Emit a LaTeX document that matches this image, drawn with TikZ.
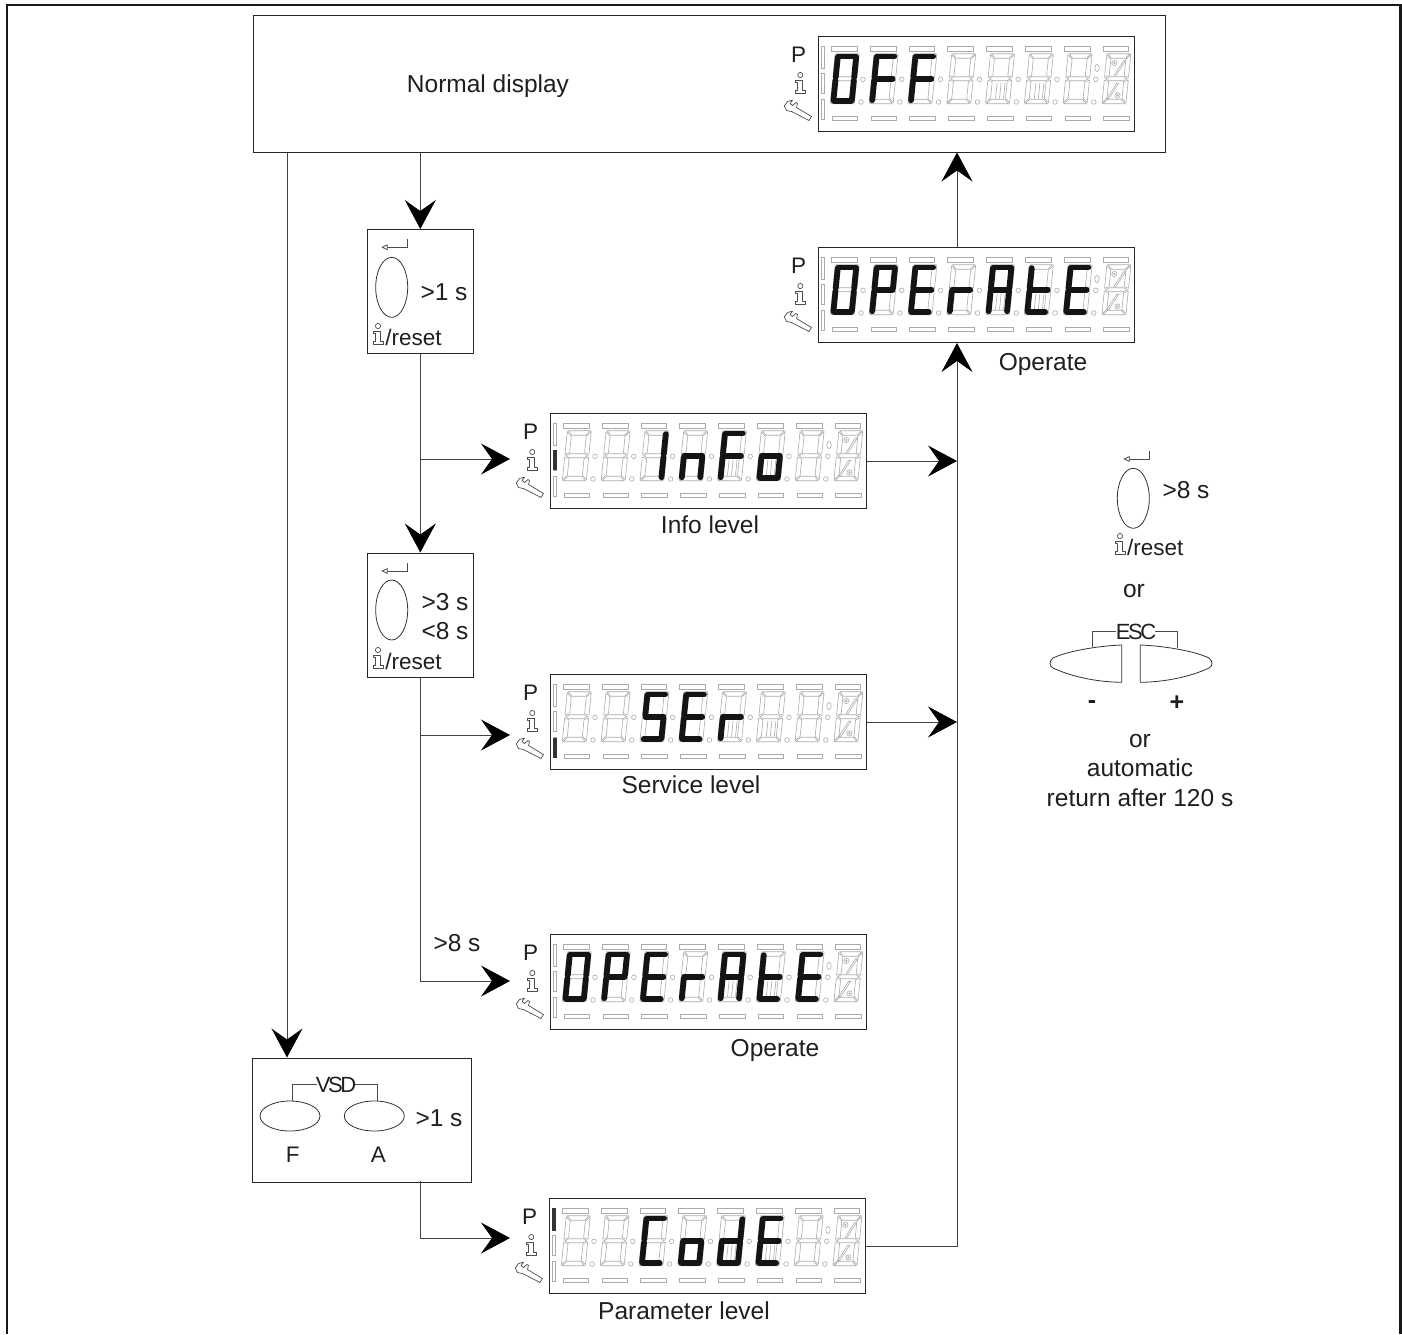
\documentclass[tikz,border=0pt]{standalone}
\usepackage{fontspec}
\setmainfont{Liberation Sans}
\usetikzlibrary{arrows.meta,calc}
\definecolor{conn}{HTML}{444444}
\definecolor{seggray}{HTML}{ABABAB}
\tikzset{
  conline/.style={draw=conn,line width=1pt},
  conarrow/.style={conline,-{Stealth[length=29pt,width=31pt,inset=11pt,fill=black,color=black]}},
  dispframe/.style={draw=black!85,line width=1pt,inner sep=0pt,minimum width=316pt,minimum height=95pt,anchor=north west},
  lab/.style={inner sep=0pt,font=\fontsize{24.5}{26}\selectfont,text=black!88},
  smalllab/.style={inner sep=0pt,font=\fontsize{22.5}{24}\selectfont,text=black!88},
  tightlab/.style={inner sep=0pt,font=\fontsize{22}{24}\selectfont\addfontfeature{LetterSpace=-11},text=black!88},
  boldlab/.style={inner sep=0pt,font=\fontsize{25}{26}\selectfont\bfseries,text=black!88},
  seg/.style={draw=seggray,line width=.6pt},
  act/.style={draw=black!92,line width=5.8pt,line cap=round},
  icon/.style={draw=black!70,line width=.7pt,line join=round},
  pushbtn/.style={draw=black!80,line width=.8pt},
  thinln/.style={draw=black!70,line width=.8pt}
}
% active segments
\newcommand\sega{\draw[act] (3.5,2.8)--(20.5,2.8);}
\newcommand\segb{\draw[act] (21.2,3.5)--(21.2,23.5);}
\newcommand\segc{\draw[act] (21.2,26.5)--(21.2,46.5);}
\newcommand\segd{\draw[act] (3.5,47.2)--(20.5,47.2);}
\newcommand\sege{\draw[act] (2.8,26.5)--(2.8,46.5);}
\newcommand\segf{\draw[act] (2.8,3.5)--(2.8,23.5);}
\newcommand\segg{\draw[act] (3,25)--(21,25);}
% passive digit outline
\newcommand\passivedigit{%
  \draw[seg] (1,0)--(23,0)--(19,4.5)--(5,4.5)--cycle;
  \draw[seg] (24,1)--(24,23.5)--(19.5,22)--(19.5,5.5)--cycle;
  \draw[seg] (24,26.5)--(24,49)--(19.5,44.5)--(19.5,28)--cycle;
  \draw[seg] (1,50)--(23,50)--(19,45.5)--(5,45.5)--cycle;
  \draw[seg] (0,26.5)--(0,49)--(4.5,44.5)--(4.5,28)--cycle;
  \draw[seg] (0,1)--(0,23.5)--(4.5,22)--(4.5,5.5)--cycle;
  \draw[seg] (1,25)--(5,23)--(19,23)--(23,25)--(19,27)--(5,27)--cycle;
}
\newcommand\iconi[2]{%
  \begin{scope}[shift={(#1,#2)}]
    \draw[icon] (0,-5) circle (2.6);
    \draw[icon] (-5,0)--(2.5,0)--(2.5,10.5)--(5,10.5)--(5,13.3)--(-5,13.3)--(-5,10.5)--(-2.5,10.5)--(-2.5,2.8)--(-5,2.8)--cycle;
  \end{scope}}
\newcommand\retsym[2]{%
  \begin{scope}[shift={(#1,#2)}]
    \draw[thinln] (25,-8)--(25,0)--(4,0);
    \draw[thinln,fill=white] (0,0)--(5,-2.4)--(5,2.4)--cycle;
  \end{scope}}
% display: name, x, y, active list, indicator row (0 none,1,2,3)
\newcommand\display[5]{%
\begin{scope}[shift={(#2,#3)}]
  \node[dispframe] (#1) at (0,0) {};
  % side icons
  \node[smalllab] (#1P) at (-19.3,18.7) {P};
  \iconi{-17.7}{44}
  \draw[icon] (-25.5,64.2)--(-30.5,65.5)--(-33.7,70)--(-31.5,74.5)--(-26.5,75.5)--(-9,84.5)--(-6.5,80.5)--(-21.5,71.5)--(-20.5,67.5)--(-22,66.5)--(-25.5,69.5)--(-28,67.5)--cycle;
  % side bars
  \draw[seg] (3,10.3) rectangle (6.7,32.7);
  \draw[seg] (3,37) rectangle (6.7,57);
  \draw[seg] (3,63.7) rectangle (6.7,83.7);
  \ifcase#5\or
    \fill[black!80] (3,10.3) rectangle (7,32.7);\or
    \fill[black!80] (3,37) rectangle (7,57);\or
    \fill[black!80] (3,63.7) rectangle (7,83.7);\fi
  \foreach \i in {0,...,7} {
    \draw[seg] ({13.3+\i*38.8},10.7) rectangle ++(25.7,4.3);
    \draw[seg] ({14+\i*38.8},80) rectangle ++(25.7,4);
    \begin{scope}[shift={({17.3+\i*38.8},17.7)},xslant=0.1]
      \passivedigit
    \end{scope}
  }
  \foreach \i in {0,...,6} {
    \draw[seg] ({45+\i*38.8},43.3) circle (2.3);
    \draw[seg] ({43+\i*38.8},66) circle (2.3);
  }
  \draw[seg] (279,32) ellipse (2.2 and 3.6);
  \foreach \i in {4,5} {
    \begin{scope}[shift={({17.3+\i*38.8},17.7)},xslant=0.1]
      \foreach \q in {9.5,13.5,17.5} \draw[seg] (\q,29)--(\q,45);
    \end{scope}
  }
  \begin{scope}[shift={(288.9,17.7)},xslant=0.1]
    \draw[seg] (8.4,9.3) circle (2.6);
    \fill[seggray] (8.4,9.3) circle (1.2);
    \draw[seg] (17.3,7)--(19.3,7)--(11.4,21.7)--(9.4,21.7)--cycle;
    \draw[seg] (12.8,29.5)--(14.8,29.5)--(6.3,45)--(4.3,45)--cycle;
    \draw[seg] (14.7,41.7) circle (2.6);
    \fill[seggray] (14.7,41.7) circle (1.2);
  \end{scope}
  \foreach \d/\s in {#4} {
    \begin{scope}[shift={({17.3+\d*38.8},17.7)},xslant=0.1]
      \foreach \t in \s {\csname seg\t\endcsname}
    \end{scope}
  }
\end{scope}}
\begin{document}
\begin{tikzpicture}[x=1pt,y=-1pt]
\useasboundingbox (0,0) rectangle (1402,1334);
\fill[white] (0,0) rectangle (1402,1334);
% outer frame (open at the bottom)
\draw[black!90,line width=2.3pt] (7,1334)--(7,5)--(1400.5,5)--(1400.5,1334);

% main box
\node[draw=black!85,line width=1pt,inner sep=0pt,minimum width=912pt,minimum height=137pt] (main) at (709,83.5) {};
\node[lab] (normal) at (488,86) {Normal display};

% displays
\display{off}{818}{36}{0/{a,b,c,d,e,f},1/{a,e,f,g},2/{a,e,f,g}}{0}
\display{opone}{818}{247}{0/{a,b,c,d,e,f},1/{a,b,e,f,g},2/{a,d,e,f,g},3/{e,g},4/{a,b,c,e,f,g},5/{d,e,f,g},6/{a,d,e,f,g}}{0}
\display{info}{550}{413}{2/{b,c},3/{c,e,g},4/{a,e,f,g},5/{c,d,e,g}}{2}
\display{serv}{550}{674}{2/{a,c,d,f,g},3/{a,d,e,f,g},4/{e,g}}{3}
\display{optwo}{550}{934}{0/{a,b,c,d,e,f},1/{a,b,e,f,g},2/{a,d,e,f,g},3/{e,g},4/{a,b,c,e,f,g},5/{d,e,f,g},6/{a,d,e,f,g}}{0}
\display{code}{549}{1198}{2/{a,d,e,f},3/{c,d,e,g},4/{b,c,d,e,g},5/{a,d,e,f,g}}{1}

% button boxes
\node[draw=black!85,line width=1pt,inner sep=0pt,minimum width=105.5pt,minimum height=124pt] (btnone) at (420.3,291.5) {};
\node[draw=black!85,line width=1pt,inner sep=0pt,minimum width=105.5pt,minimum height=124pt] (btntwo) at (420.3,615) {};
\node[draw=black!85,line width=1pt,inner sep=0pt,minimum width=219pt,minimum height=124pt] (vsd) at (362.2,1120) {};

% button 1 content
\retsym{382.3}{247.3}
\draw[pushbtn] (391.7,287.3) ellipse (16 and 30);
\node[lab] (t1s) at (444,292) {>1 s};
\iconi{378}{331}
\node[smalllab,anchor=west] (r1) at (385.2,337) {/reset};

% button 2 content
\retsym{382.3}{571}
\draw[pushbtn] (391.7,610) ellipse (16 and 30);
\node[lab] (t3s) at (445,602) {>3 s};
\node[lab] (t8s) at (445,631) {<8 s};
\iconi{378}{655}
\node[smalllab,anchor=west] (r2) at (385.2,661) {/reset};

% vsd content
\draw[pushbtn] (290,1116) ellipse (30 and 15);
\draw[pushbtn] (374.3,1116) ellipse (30 and 15);
\draw[thinln] (292.7,1101)--(292.7,1084.3)--(317,1084.3);
\draw[thinln] (355,1084.3)--(377.7,1084.3)--(377.7,1101);
\node[tightlab] (vsdt) at (336,1085) {VSD};
\node[lab] (t1b) at (439,1118) {>1 s};
\node[smalllab] (tf) at (292.7,1155) {F};
\node[smalllab] (ta) at (378.3,1155) {A};

% connector helpers
\coordinate (jx) at (957,300);
\coordinate (vx) at (287,152);
\coordinate (infoin) at (510,459);
\coordinate (servin) at (510,735);
\coordinate (optwoin) at (510,981);
\coordinate (codein) at (510,1238);
\coordinate (vsdout) at (420,1181);

% connectors
\draw[conarrow] (main.south -| vx) -- (vsd.north -| vx);
\draw[conarrow] (main.south -| btnone) -- (btnone.north);
\draw[conarrow] (btnone.south) -- (btntwo.north);
\draw[conarrow] (btnone.south |- infoin) -- (infoin);
\draw[conline] (btntwo.south) -- (btntwo.south |- optwoin);
\draw[conarrow] (btntwo.south |- servin) -- (servin);
\draw[conarrow] (btntwo.south |- optwoin) -- (optwoin);
\draw[conarrow] (vsdout) -- (vsdout |- codein) -- (codein);
\draw[conarrow] (info.east) -- (info.east -| jx);
\draw[conarrow] (serv.east) -- (serv.east -| jx);
\draw[conarrow] (code.east) -- (code.east -| jx) -- (opone.south -| jx);
\draw[conarrow] (opone.north -| jx) -- (main.south -| jx);

% labels
\node[lab] (lop1) at (1043,364) {Operate};
\node[lab] (linfo) at (710,525) {Info level};
\node[lab] (lserv) at (691,785) {Service level};
\node[lab] (l8) at (457,943) {>8 s};
\node[lab] (lop2) at (775,1050) {Operate};
\node[lab] (lpar) at (684,1311) {Parameter level};

% right legend
\retsym{1124.3}{459}
\draw[pushbtn] (1133.3,498.3) ellipse (16 and 30);
\node[lab] (t8r) at (1186,490) {>8 s};
\iconi{1120}{541}
\node[smalllab,anchor=west] (r3) at (1127,547) {/reset};
\node[lab] (or1) at (1134,591) {or};
\draw[pushbtn] (1121.7,645) .. controls (1095,646) and (1065,652) .. (1053,658) .. controls (1049,661) and (1049,666) .. (1053,668) .. controls (1070,676) and (1095,682) .. (1121.7,682.3) -- cycle;
\draw[pushbtn] (1140.3,645) .. controls (1167,646) and (1197,652) .. (1209,658) .. controls (1213,661) and (1213,666) .. (1209,668) .. controls (1192,676) and (1167,682) .. (1140.3,682.3) -- cycle;
\draw[thinln] (1092.3,647)--(1092.3,631.7)--(1116,631.7);
\draw[thinln] (1155,631.7)--(1177.7,631.7)--(1177.7,648);
\node[tightlab] (esc) at (1136,632) {ESC};
\node[boldlab] (minus) at (1092,705) {-};
\node[boldlab] (plus) at (1177,703.5) {+};
\node[lab] (or2) at (1140,741) {or};
\node[lab] (auto) at (1140,768) {automatic};
\node[lab] (ret) at (1140,798) {return after 120 s};
\end{tikzpicture}
\end{document}
